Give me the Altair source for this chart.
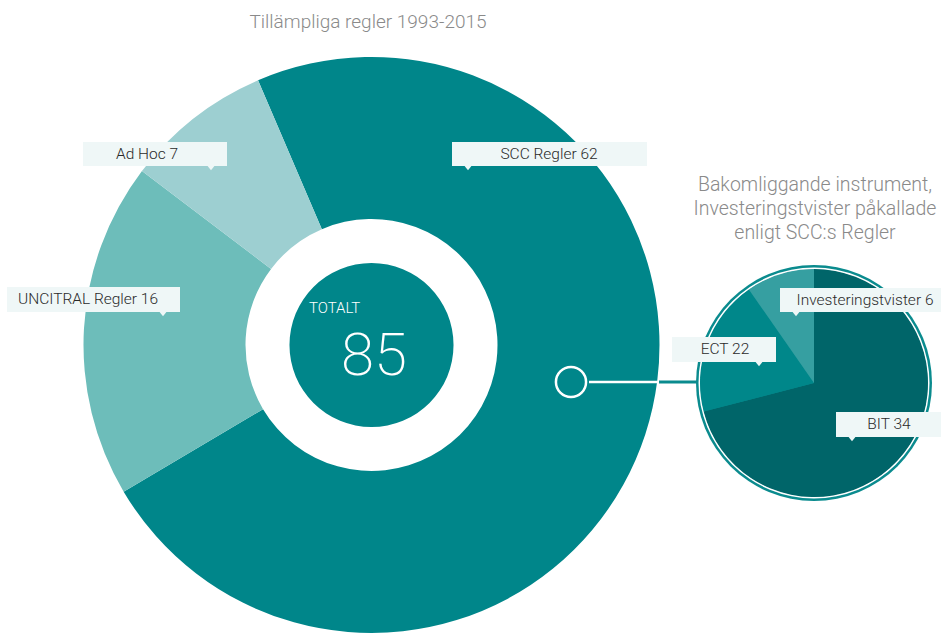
import math
import altair as alt
import pandas as pd

# ---------------- data ----------------
big_categories = ["SCC Regler", "UNCITRAL Regler", "Ad Hoc"]
big_values = [62, 16, 7]
big_colors = ["#00868a", "#6dbdba", "#9dcfd1"]
total_label = "TOTALT"
total_value = 85

small_categories = ["BIT", "ECT", "Investeringstvister"]
small_label_values = [34, 22, 6]   # numbers printed in the labels
small_slice_values = [44, 12, 6]   # slice sizes as drawn in the picture
small_colors = ["#006569", "#00878a", "#369fa1"]

title_main = "Tillämpliga regler 1993-2015"
title_side = ["Bakomliggande instrument,", "Investeringstvister påkallade", "enligt SCC:s Regler"]

# ---------------- layout ----------------
BIG_CX, BIG_CY, BIG_R, BIG_HOLE, BIG_CORE = 371.5, 345, 288, 126, 82
BIG_START = -23.2 * math.pi / 180
SM_CX, SM_CY, SM_R, SM_RING, SM_IN = 814, 383, 118, 115.5, 114
TWO_PI = 2 * math.pi
FONT = "Roboto"
BOX_FILL = "#eff7f7"
TEXT_COLOR = "#2a2a2a"
GREY = "#8a8a8a"

one = pd.DataFrame({"a": [0]})
layers = []

# big donut
big_df = pd.DataFrame({"cat": big_categories, "value": big_values, "order": list(range(len(big_values)))})
layers.append(
    alt.Chart(big_df).mark_arc(outerRadius=BIG_R, innerRadius=BIG_HOLE).encode(
        x=alt.value(BIG_CX), y=alt.value(BIG_CY),
        theta=alt.Theta("value:Q", stack=True,
                        scale=alt.Scale(range=[BIG_START, BIG_START + TWO_PI])),
        color=alt.Color("cat:N", scale=alt.Scale(domain=big_categories, range=big_colors), legend=None),
        order=alt.Order("order:Q"),
    )
)
# inner core circle
layers.append(
    alt.Chart(one).mark_arc(outerRadius=BIG_CORE, theta=0, theta2=TWO_PI, color=big_colors[0]).encode(
        x=alt.value(BIG_CX), y=alt.value(BIG_CY))
)

# small pie: outer ring, white line, slices
layers.append(
    alt.Chart(one).mark_arc(outerRadius=SM_R, theta=0, theta2=TWO_PI, color="#0a8b8e").encode(
        x=alt.value(SM_CX), y=alt.value(SM_CY))
)
layers.append(
    alt.Chart(one).mark_arc(outerRadius=SM_RING, innerRadius=SM_IN - 0.5, theta=0, theta2=TWO_PI,
                            color="#ffffff").encode(x=alt.value(SM_CX), y=alt.value(SM_CY))
)
small_df = pd.DataFrame({"cat": small_categories, "value": small_slice_values,
                         "order": list(range(len(small_slice_values)))})
layers.append(
    alt.Chart(small_df).mark_arc(outerRadius=SM_IN).encode(
        x=alt.value(SM_CX), y=alt.value(SM_CY),
        theta=alt.Theta("value:Q", stack=True, scale=alt.Scale(range=[0, TWO_PI])),
        color=alt.Color("cat:N", scale=alt.Scale(domain=small_categories, range=small_colors), legend=None),
        order=alt.Order("order:Q"),
    )
)

# connector
layers.append(
    alt.Chart(one).mark_rule(color="#0a8b8e", strokeWidth=3).encode(
        x=alt.value(659), x2=alt.value(SM_CX - SM_R + 2), y=alt.value(382))
)
layers.append(
    alt.Chart(one).mark_rule(color="#ffffff", strokeWidth=2.5).encode(
        x=alt.value(589), x2=alt.value(659), y=alt.value(382))
)
layers.append(
    alt.Chart(one).mark_point(shape="circle", filled=False, color="#ffffff", strokeWidth=2.5,
                              size=math.pi * 17 ** 2, opacity=1).encode(
        x=alt.value(571), y=alt.value(382))
)

# labels: (text, box x1, x2, y1, y2, text x, pointer x)
label_texts = [f"{c} {v}" for c, v in zip(big_categories, big_values)] + \
              [f"{c} {v}" for c, v in zip(small_categories, small_label_values)]
label_layout = {
    "SCC Regler 62": (452, 647, 142, 166, 549, 468),
    "UNCITRAL Regler 16": (7, 180, 287, 312, 88, 163),
    "Ad Hoc 7": (83, 227, 142, 166, 147, 211),
    "BIT 34": (836, 945, 412, 437, 889, 852),
    "ECT 22": (672, 776, 337, 362, 725, 759),
    "Investeringstvister 6": (780, 945, 288, 312, 865, 796),
}
for t in label_texts:
    x1, x2, y1, y2, tx, px = label_layout[t]
    d = pd.DataFrame({"label": [t]})
    layers.append(alt.Chart(d).mark_rect(color=BOX_FILL).encode(
        x=alt.value(x1), x2=alt.value(x2), y=alt.value(y1), y2=alt.value(y2)))
    layers.append(alt.Chart(d).mark_point(shape="M-0.8,0L0.8,0L0,1Z", size=90, filled=True,
                                           color=BOX_FILL, opacity=1, strokeWidth=0).encode(
        x=alt.value(px), y=alt.value(y2 - 0.5)))
    layers.append(alt.Chart(d).mark_text(font=FONT, fontSize=15.5, fontWeight=300, color=TEXT_COLOR,
                                          align="center", baseline="alphabetic").encode(
        x=alt.value(tx), y=alt.value(y1 + 17), text="label:N"))

# centre texts
layers.append(alt.Chart(pd.DataFrame({"t": [total_label]})).mark_text(
    font=FONT, fontSize=15, fontWeight=300, color="#ffffff", align="left", baseline="alphabetic").encode(
    x=alt.value(309), y=alt.value(313), text="t:N"))
layers.append(alt.Chart(pd.DataFrame({"t": [str(total_value)]})).mark_text(
    font=FONT, fontSize=60, fontWeight=200, color="#ffffff", align="center", baseline="alphabetic").encode(
    x=alt.value(374), y=alt.value(375), text="t:N"))

# titles
layers.append(alt.Chart(pd.DataFrame({"t": [title_main]})).mark_text(
    font=FONT, fontSize=19, fontWeight=300, color=GREY, align="center", baseline="alphabetic").encode(
    x=alt.value(368), y=alt.value(28), text="t:N"))
for i, line in enumerate(title_side):
    layers.append(alt.Chart(pd.DataFrame({"t": [line]})).mark_text(
        font=FONT, fontSize=19.5, fontWeight=300, color=GREY, align="center", baseline="alphabetic").encode(
        x=alt.value(815), y=alt.value(191 + 24 * i), text="t:N"))

chart = alt.layer(*layers).resolve_scale(theta="independent", color="independent").properties(
    width=941, height=634, padding=0, autosize="none", background="#ffffff"
).configure_view(stroke=None)

chart.save("out.html", embed_options={"renderer": "svg", "actions": False})
